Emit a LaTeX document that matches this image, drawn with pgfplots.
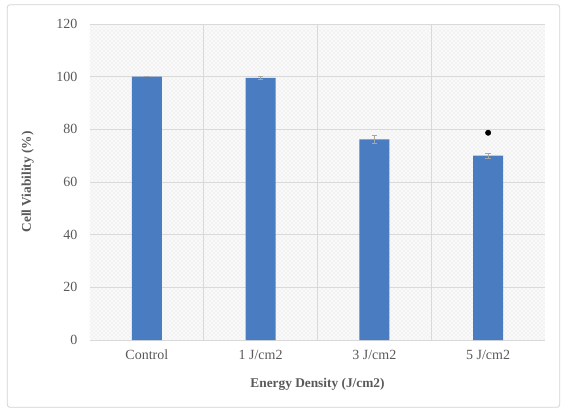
\documentclass[border=0pt]{standalone}
\usepackage{pgfplots}
\pgfplotsset{compat=1.18}
\usepackage{fontspec}
\setmainfont{Liberation Serif}
\usetikzlibrary{patterns}
\definecolor{barblue}{HTML}{4A7CC2}
\definecolor{txt}{HTML}{595959}
\begin{document}
\begin{tikzpicture}
\begin{axis}[
  scale only axis,
  width=341.25pt, height=237pt,
  xmin=-0.5, xmax=3.5,
  ymin=0, ymax=120,
  ytick={0,20,...,120},
  xtick={0,1,2,3},
  xticklabels={Control,1 J/cm2,3 J/cm2,5 J/cm2},
  minor xtick={0.5,1.5,2.5},
  ymajorgrids, xminorgrids,
  major grid style={gray!30, line width=0.5pt},
  minor grid style={gray!30, line width=0.5pt},
  axis line style={draw=none},
  tick style={draw=none},
  ticklabel style={font=\fontsize{10.5}{12}\selectfont, text=txt},
  /pgf/number format/assume math mode=true,
  xlabel={\textbf{Energy Density (J/cm2)}},
  ylabel={\textbf{Cell Viability (\%)}},
  label style={font=\fontsize{10}{12}\selectfont, text=txt},
  xlabel style={yshift=-7pt},
  ylabel style={yshift=10pt},
  yticklabel style={xshift=-6pt},
  xticklabel style={yshift=-4pt},
  axis background/.style={fill=gray!5, postaction={pattern=crosshatch dots, pattern color=gray!22}},
]
\addplot[ybar, bar width=22.5pt, fill=barblue, draw=none,
  error bars/.cd, y dir=both, y explicit, error bar style={gray!70, line width=0.5pt}, error mark options={rotate=90, mark size=2pt, gray!70}]
  coordinates {(0,100) +- (0,0) (1,99.5) +- (0,0.5) (2,76.2) +- (0,1.5) (3,70) +- (0,1)};
\addplot[only marks, mark=*, mark size=2pt, black] coordinates {(3,78.7)};
\coordinate (sw) at (rel axis cs:0,0);
\coordinate (ne) at (rel axis cs:1,1);
\end{axis}
\pgfresetboundingbox
\path ([xshift=-67.5pt,yshift=-53.25pt]sw) rectangle ([xshift=13.5pt,yshift=18pt]ne);
\draw[gray!35, line width=0.6pt, rounded corners=2pt] ([xshift=-62pt,yshift=-50.5pt]sw) rectangle ([xshift=11pt,yshift=14.5pt]ne);
\end{tikzpicture}
\end{document}
